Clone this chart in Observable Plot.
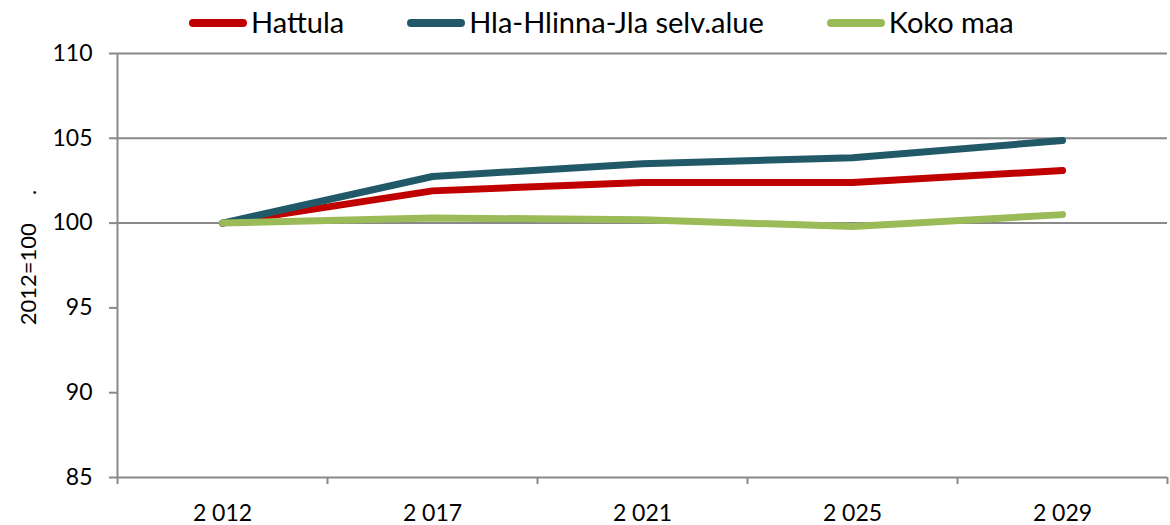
<!DOCTYPE html>
<html>
<head>
<meta charset="utf-8">
<script src="https://cdn.jsdelivr.net/npm/d3@7"></script>
<script src="https://cdn.jsdelivr.net/npm/@observablehq/plot@0.6"></script>
<style>
  html, body { margin: 0; padding: 0; background: white; }
  #legend { position: relative; width: 1170px; height: 45px; display: flex; align-items: flex-start; padding-left: 189px; box-sizing: border-box; gap: 63px; font-family: Lato, sans-serif; font-size: 29px; color: black; }
  .item { display: flex; align-items: flex-start; margin-top: 4px; line-height: normal; }
  .sw { width: 58px; height: 8px; border-radius: 4px; margin-top: 15px; margin-right: 4px; }
</style>
</head>
<body>
<div id="legend"></div>
<div id="chart"></div>
<script>
const years = ["2 012", "2 017", "2 021", "2 025", "2 029"];
const seriesNames = ["Hattula", "Hla-Hlinna-Jla selv.alue", "Koko maa"];
const seriesColors = ["#C00000", "#215968", "#9BBB59"];
const hattula = [100, 101.9, 102.4, 102.4, 103.1];
const seutu = [100, 102.75, 103.5, 103.85, 104.87];
const kokoMaa = [100, 100.3, 100.2, 99.8, 100.5];
const yTicks = [85, 90, 95, 100, 105, 110];
const gridValues = [100, 105, 110];
const yTitle = "2012=100\u00a0\u00a0\u00a0\u00a0\u00a0.";

const seriesValues = [hattula, seutu, kokoMaa];
const idx = years.map((_, i) => i);
const bounds = [-0.5, ...idx.map(i => i + 0.5)];
const rows = seriesValues.flatMap((vals, s) => vals.map((v, i) => ({series: seriesNames[s], i, v})));

// legend
const legend = document.getElementById("legend");
seriesNames.forEach((n, s) => {
  const it = document.createElement("div");
  it.className = "item";
  const sw = document.createElement("div");
  sw.className = "sw";
  sw.style.background = seriesColors[s];
  const tx = document.createElement("span");
  tx.textContent = n;
  it.appendChild(sw); it.appendChild(tx);
  legend.appendChild(it);
});

const gray = "#898989";
const chart = Plot.plot({
  width: 1170,
  height: 480,
  marginTop: 8,
  marginBottom: 48,
  marginLeft: 117,
  marginRight: 3,
  x: {type: "linear", domain: [-0.5, years.length - 0.5]},
  y: {domain: [85, 110]},
  color: {domain: seriesNames, range: seriesColors},
  style: {fontFamily: "Lato, sans-serif", fontSize: "23px", color: "black", background: "white", overflow: "visible"},
  marks: [
    Plot.ruleY(gridValues, {stroke: gray, strokeWidth: 2}),
    Plot.ruleY([85], {stroke: gray, strokeWidth: 2}),
    Plot.ruleX([-0.5], {stroke: gray, strokeWidth: 2}),
    Plot.axisY({ticks: yTicks, tickSize: 8, tickPadding: 17, stroke: gray, strokeWidth: 2, fill: "black", label: null}),
    Plot.axisX({ticks: bounds, tickSize: 7, tickFormat: () => "", stroke: gray, strokeWidth: 2, label: null}),
    Plot.axisX({ticks: idx, tickSize: 0, tickPadding: 27, tickFormat: i => years[i], fill: "black", label: null}),
    Plot.line(rows, {x: "i", y: "v", z: "series", stroke: "series", strokeWidth: 7, strokeLinecap: "round", strokeLinejoin: "round"}),
    Plot.text([yTitle], {frameAnchor: "left", rotate: -90, dx: -89, dy: -8, lineAnchor: "middle", textAnchor: "middle", fill: "black", fontSize: 22})
  ]
});
document.getElementById("chart").appendChild(chart);
</script>
</body>
</html>
